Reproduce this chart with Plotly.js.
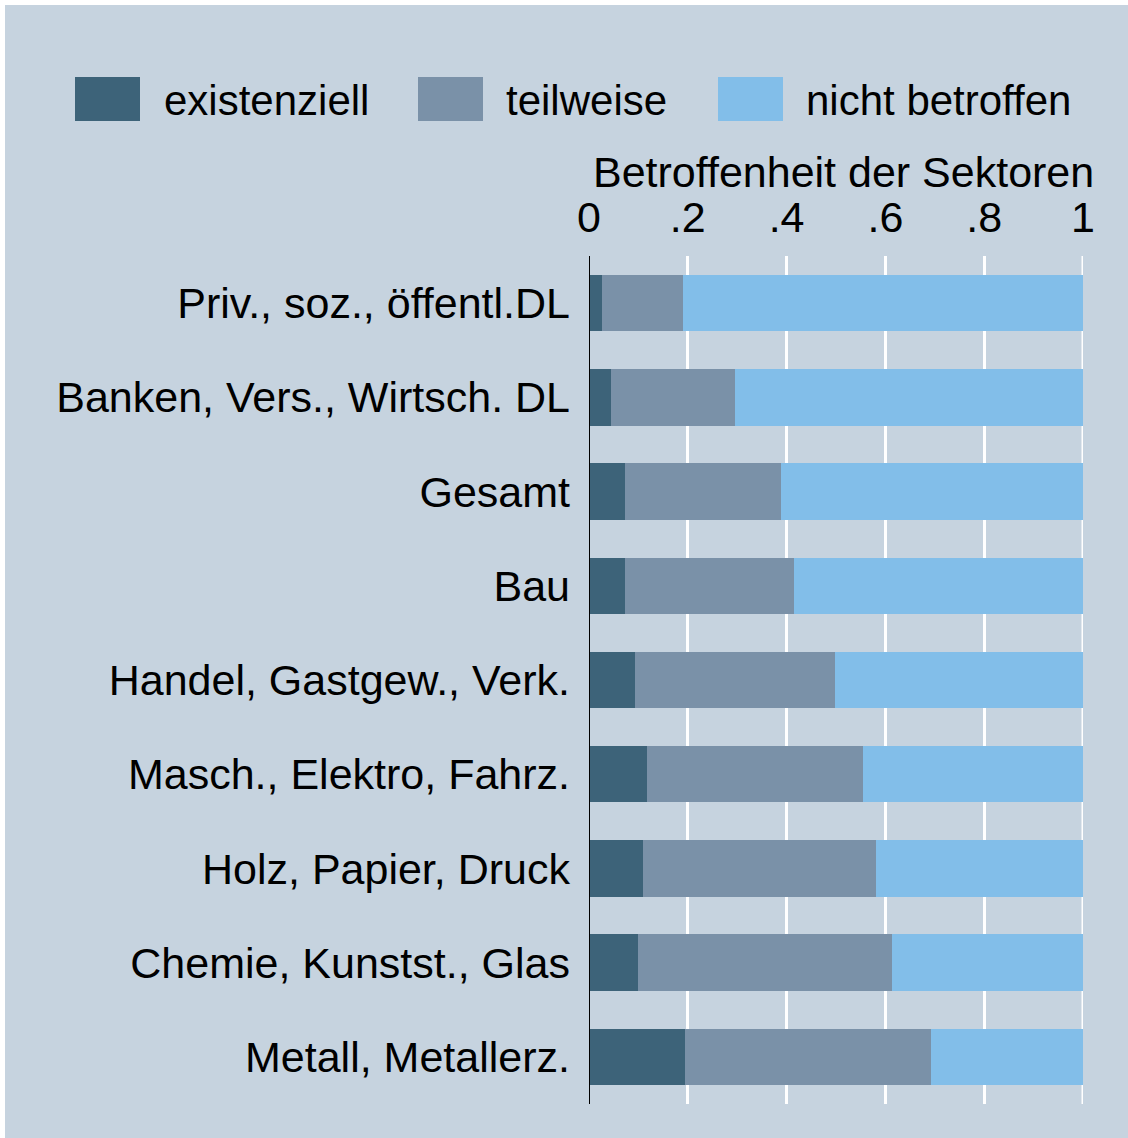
<!DOCTYPE html>
<html>
<head>
<meta charset="utf-8">
<script src="https://cdn.plot.ly/plotly-3.0.1.min.js"></script>
<style>
html, body { margin: 0; padding: 0; background: #ffffff; width: 1128px; height: 1138px; overflow: hidden; }
#chart { position: absolute; left: 5px; top: 5px; width: 1123px; height: 1133px; }
</style>
</head>
<body>
<div id="chart"></div>
<script>
// ---- data ----
const categories = [
  "Priv., soz., öffentl.DL",
  "Banken, Vers., Wirtsch. DL",
  "Gesamt",
  "Bau",
  "Handel, Gastgew., Verk.",
  "Masch., Elektro, Fahrz.",
  "Holz, Papier, Druck",
  "Chemie, Kunstst., Glas",
  "Metall, Metallerz."
];
const seriesNames = ["existenziell", "teilweise", "nicht betroffen"];
const existenziell = [0.027, 0.045, 0.072, 0.073, 0.093, 0.118, 0.110, 0.100, 0.194];
const teilweise    = [0.164, 0.251, 0.317, 0.341, 0.405, 0.436, 0.471, 0.513, 0.499];
const nichtBetroffen = [0.809, 0.704, 0.611, 0.586, 0.502, 0.446, 0.419, 0.387, 0.307];
const tickValues = [0, 0.2, 0.4, 0.6, 0.8, 1];
const tickLabels = ["0", ".2", ".4", ".6", ".8", "1"];
const axisTitle = "Betroffenheit der Sektoren";

// ---- style ----
const colors = ["#3d6379", "#7a91a8", "#82bee9"];
const bg = "#c6d3df";
const FONT = "'Liberation Sans', Arial, Helvetica, sans-serif";
const FS = 43;
const LEG_FS = 42;

const seriesValues = [existenziell, teilweise, nichtBetroffen];
const traces = seriesValues.map((vals, i) => ({
  type: "bar",
  orientation: "h",
  name: seriesNames[i],
  x: vals,
  y: categories,
  width: 0.6,
  marker: { color: colors[i], line: { width: 0 } },
  hoverinfo: "x+y+name"
}));

// layout geometry (page pixels -> paper coords)
const offX = 5, offY = 5;
const W = 1123, H = 1133;
const mL = 589 - offX, mR = 1128 - 1083, mT = 256 - offY, mB = 1138 - 1104;
const plotW = W - mL - mR, plotH = H - mT - mB;
const px = (x) => (x - 589) / plotW;
const py = (y) => (1104 - y) / plotH;

// custom legend with large swatches
const legendSwatchX = [75, 418, 718];
const legendTextX = [162, 504, 804];
const shapes = [];
const annotations = [];
seriesNames.forEach((n, i) => {
  shapes.push({
    type: "rect", xref: "paper", yref: "paper",
    x0: px(legendSwatchX[i]), x1: px(legendSwatchX[i] + 65),
    y0: py(121), y1: py(77),
    fillcolor: colors[i], line: { width: 0 }
  });
  annotations.push({
    xref: "paper", yref: "paper",
    x: px(legendTextX[i]), y: py(100),
    xanchor: "left", yanchor: "middle",
    text: n, showarrow: false,
    font: { family: FONT, size: LEG_FS, color: "#000" }
  });
});
annotations.push({
  xref: "paper", yref: "paper",
  x: px(843), y: py(172),
  xanchor: "center", yanchor: "middle",
  text: axisTitle, showarrow: false,
  font: { family: FONT, size: FS, color: "#000" }
});

const layout = {
  width: W, height: H,
  margin: { l: mL, r: mR, t: mT, b: mB, pad: 0 },
  paper_bgcolor: bg,
  plot_bgcolor: bg,
  barmode: "stack",
  bargap: 0.4,
  showlegend: false,
  font: { family: FONT, size: FS, color: "#000" },
  xaxis: {
    side: "top",
    range: [0, 1],
    tickvals: tickValues,
    ticktext: tickLabels,
    ticks: "",
    ticklabelstandoff: 14,
    showgrid: true,
    gridcolor: "#ffffff",
    gridwidth: 3,
    zeroline: false,
    showline: false,
    tickfont: { family: FONT, size: FS, color: "#000" },
    fixedrange: true
  },
  yaxis: {
    type: "category",
    categoryorder: "array",
    categoryarray: categories,
    range: [8.5, -0.5],
    showgrid: false,
    zeroline: false,
    showline: false,
    ticks: "",
    ticklabelstandoff: 18,
    tickfont: { family: FONT, size: FS, color: "#000" },
    fixedrange: true
  },
  shapes: shapes.concat([
    {
      type: "line", xref: "x", yref: "paper",
      x0: 1, x1: 1, y0: 0, y1: 1,
      line: { color: "#ffffff", width: 3 }, layer: "below"
    },
    {
      type: "line", xref: "x", yref: "paper",
      x0: 0, x1: 0, y0: 0, y1: 1,
      line: { color: "#000", width: 2 }, layer: "above"
    }
  ]),
  annotations: annotations
};

Plotly.newPlot("chart", traces, layout, { staticPlot: true, displayModeBar: false });
</script>
</body>
</html>
